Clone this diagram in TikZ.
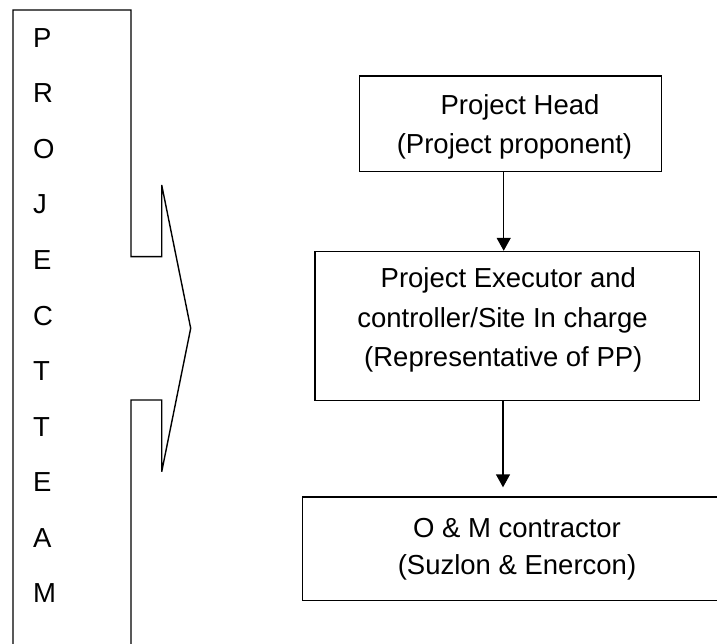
\documentclass[tikz,border=0pt]{standalone}
\usepackage{fontspec}
\setmainfont{Liberation Sans}
\usetikzlibrary{arrows.meta}
\begin{document}
\begin{tikzpicture}[x=1pt,y=-1pt,
  line width=1.4pt,
  boxline/.style={draw=black, line width=1.4pt},
  txt/.style={inner sep=0pt, anchor=base, font=\fontsize{27.5}{33}\selectfont},
  letter/.style={inner sep=0pt, anchor=base west, font=\fontsize{27.5}{33}\selectfont},
  arr/.style={-{Triangle[length=13pt,width=14pt]}, line width=1.4pt}]
\useasboundingbox (0,0) rectangle (717,644);
\clip (0,0) rectangle (717,644);
% left bracket shape with arrow notch
\draw[line width=1.4pt] (13,650) -- (13,10) -- (131,10) -- (131,256.7) -- (161.7,256.7) -- (161.7,185)
  -- (190.7,328.3) -- (161.7,471.7) -- (161.7,400) -- (131,400) -- (131,650);
% letters
\foreach \ch [count=\i from 0] in {P,R,O,J,E,C,T,T,E,A,M} {
  \node[letter] (L\i) at (32.5,47.5+55.5*\i) {\ch};
}
% boxes
\path[boxline] (359.3,76) rectangle (661.7,171.7);
\node[inner sep=0pt, minimum width=302.4pt, minimum height=95.7pt] (head) at (510.5,123.85) {};
\path[boxline] (315,251.5) rectangle (699.3,400.5);
\node[inner sep=0pt, minimum width=384.3pt, minimum height=149pt] (exec) at (507.15,326) {};
\path[boxline] (302.7,497) rectangle (731,600.5);
\node[inner sep=0pt, minimum width=428.3pt, minimum height=103.5pt] (om) at (516.85,548.75) {};
% texts
\node[txt] (h1) at (520,115) {Project Head};
\node[txt] (h2) at (514.5,154) {(Project proponent)};
\node[txt] (e1) at (508.3,287.5) {Project Executor and};
\node[txt] (e2) at (502.5,327) {controller/Site In charge};
\node[txt] (e3) at (503.3,366.5) {(Representative of PP)};
\node[txt] (o1) at (517,537) {O \& M contractor};
\node[txt] (o2) at (517,574) {(Suzlon \& Enercon)};
% arrows
\coordinate (ax1) at (503.7,0);
\coordinate (ax2) at (503,0);
\draw[arr] (head.south -| ax1) -- (exec.north -| ax1);
\draw[arr, shorten >=9pt] (exec.south -| ax2) -- (om.north -| ax2);
\end{tikzpicture}
\end{document}
